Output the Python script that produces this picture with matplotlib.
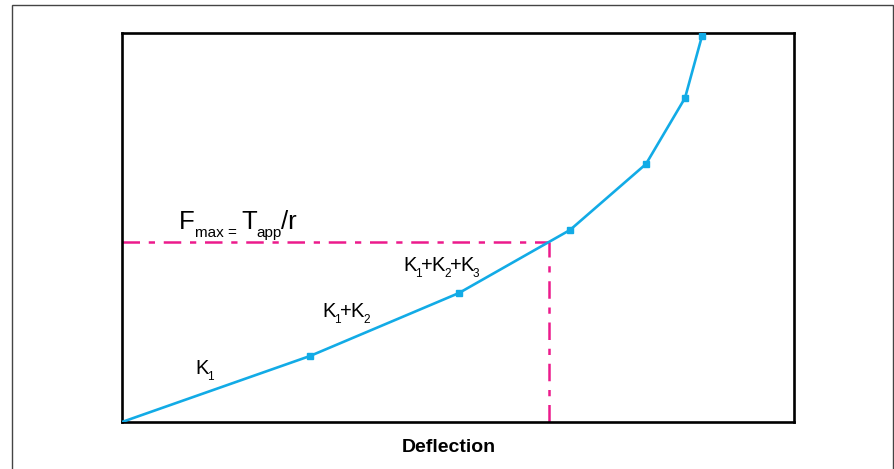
import numpy as np
import matplotlib
matplotlib.use("Agg")
import matplotlib.pyplot as plt
from matplotlib.patches import Rectangle
from matplotlib.transforms import offset_copy

plt.rcParams['font.family'] = ['Liberation Sans', 'DejaVu Sans']

# Piecewise stiffness curve (deflection vs. force, arbitrary units)
deflection = [0, 188, 337, 448, 524, 563, 580]
force = [0, 66, 129, 192, 258, 324, 386]
f_max = 180

# stiffness labels as subscripts of K joined by "+"
segment_labels = [["1"], ["1", "2"], ["1", "2", "3"]]
segment_label_pos = [(73, 48), (200, 105), (281, 151)]

W, H = 895, 469
fig = plt.figure(figsize=(W / 100, H / 100), dpi=100)
renderer = fig.canvas.get_renderer()

# outer frame
fig.patches.append(Rectangle((12.5 / W, -0.05), (893 - 12.5) / W, 1.05 - 5.5 / H,
                             transform=fig.transFigure, fill=False,
                             edgecolor='#444444', linewidth=1.0))

ax = fig.add_axes([122 / W, 1 - 422 / H, (794 - 122) / W, (422 - 33) / H])
ax.set_xlim(0, 672)
ax.set_ylim(0, 389)
ax.set_xticks([])
ax.set_yticks([])
for s in ax.spines.values():
    s.set_linewidth(1.9)
    s.set_color('black')

blue = '#12ABE6'
pink = '#EC1A8C'

ax.plot(deflection, force, color=blue, lw=1.9, zorder=3)
ax.plot(deflection[1:], force[1:], 's', color=blue, ms=4.2, zorder=4)

x_fmax = np.interp(f_max, force, deflection)
ax.plot([0, x_fmax], [f_max, f_max], color=pink, lw=1.8,
        dashes=(7, 3.5, 2.5, 3.5), zorder=2)
ax.plot([x_fmax, x_fmax], [0, f_max], color=pink, lw=1.8,
        dashes=(7, 3.5, 2.5, 3.5), zorder=2)


def draw_runs(x, y, runs):
    """Draw text pieces side by side; each run is (text, size, dy_px, gap_px)."""
    dx = 0.0
    for s, size, dy, gap in runs:
        tr = offset_copy(ax.transData, fig=fig, x=dx + gap, y=dy, units='dots')
        t = ax.text(x, y, s, fontsize=size, ha='left', va='baseline',
                    transform=tr)
        dx += gap + t.get_window_extent(renderer).width


draw_runs(57, 193, [("F", 18.5, 0, 0),
                    ("max =", 11, -8, 0),
                    ("T", 18.5, 0, 5),
                    ("app", 11, -8, -1),
                    ("/r", 18.5, 0, -1)])

for subs, (x, y) in zip(segment_labels, segment_label_pos):
    runs = []
    for i, sub in enumerate(subs):
        if i > 0:
            runs.append(("+", 14.5, 0, -1))
        runs.append(("K", 14.5, 0, -1 if i > 0 else 0))
        runs.append((sub, 8.5, -6, -1))
    draw_runs(x, y, runs)

fig.text(449 / W, 1 - 452 / H, 'Deflection', fontsize=14, fontweight='bold',
         ha='center', va='baseline')

fig.savefig('out.png', dpi=100)
